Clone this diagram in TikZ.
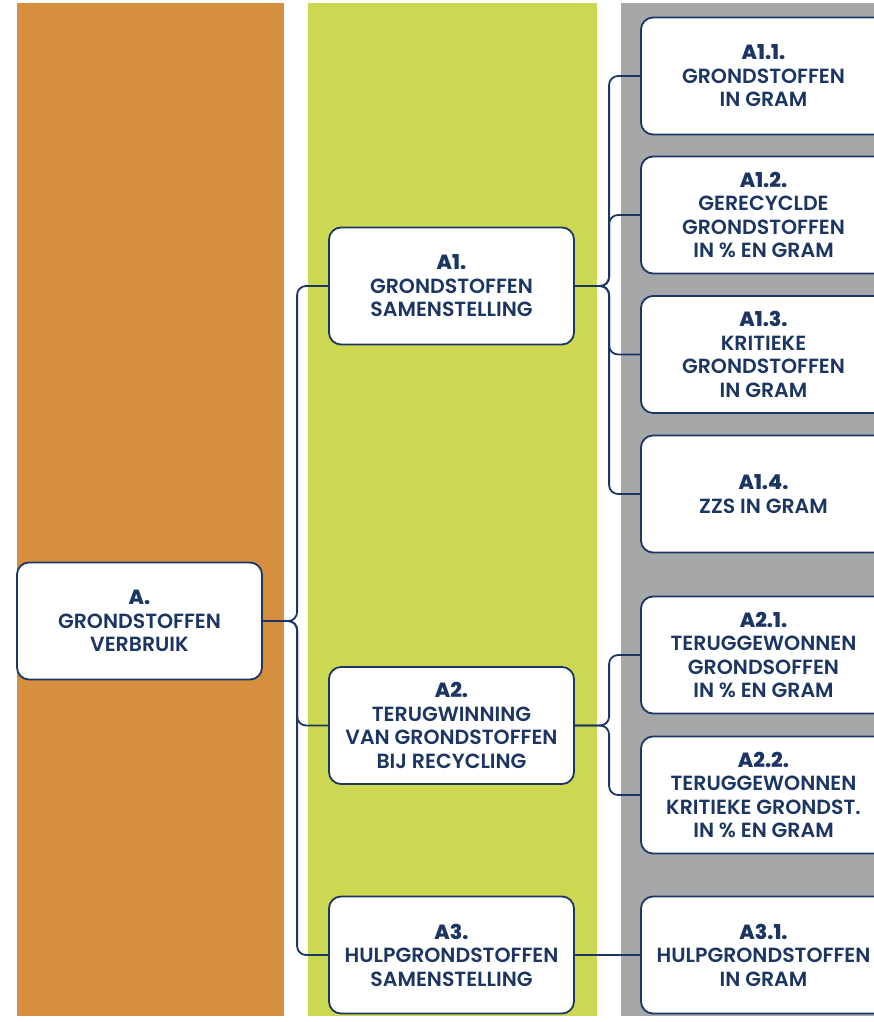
\documentclass[tikz,border=0pt]{standalone}
\usepackage{fontspec}
\setmainfont{Poppins}[UprightFont={* SemiBold},BoldFont={* ExtraBold}]
\usepackage{tikz}
\usetikzlibrary{positioning,calc}
\usepackage{xcolor}
\definecolor{colOrange}{HTML}{D68F3E}
\definecolor{colGreen}{HTML}{CDD852}
\definecolor{colGray}{HTML}{A6A7A9}
\definecolor{colNavy}{HTML}{1C3664}

\begin{document}
\begin{tikzpicture}[x=1pt,y=-1pt,
    box/.style={draw=colNavy, line width=1.8pt, fill=white, rounded corners=12pt,
        minimum width=245pt, minimum height=117pt, align=center, text=colNavy,
        font=\fontsize{20.5}{23.5}\selectfont},
    conn/.style={draw=colNavy, line width=1.8pt, rounded corners=9pt}]
    \clip (0,0) rectangle (874,1022);
    % Columns
    \fill[white] (0,0) rectangle (874,1022);
    \fill[colOrange] (17,3) rectangle (284,1016);
    \fill[colGreen] (308,3) rectangle (597,1016);
    \fill[colGray] (621,3) rectangle (880,1016);
    % Boxes
    \node[box] (A) at (139.5,621) {\textbf{A.}\\GRONDSTOFFEN\\VERBRUIK};
    \node[box] (A1) at (451.5,286) {\textbf{A1.}\\GRONDSTOFFEN\\SAMENSTELLING};
    \node[box] (A2) at (451.5,725.5) {\textbf{A2.}\\TERUGWINNING\\VAN GRONDSTOFFEN\\BIJ RECYCLING};
    \node[box] (A3) at (451.5,955) {\textbf{A3.}\\HULPGRONDSTOFFEN\\SAMENSTELLING};
    \node[box] (A11) at (763.5,76) {\textbf{A1.1.}\\GRONDSTOFFEN\\IN GRAM};
    \node[box] (A12) at (763.5,215) {\textbf{A1.2.}\\GERECYCLDE\\GRONDSTOFFEN\\IN \% EN GRAM};
    \node[box] (A13) at (763.5,354.5) {\textbf{A1.3.}\\KRITIEKE\\GRONDSTOFFEN\\IN GRAM};
    \node[box] (A14) at (763.5,494) {\textbf{A1.4.}\\ZZS IN GRAM};
    \node[box] (A21) at (763.5,655) {\textbf{A2.1.}\\TERUGGEWONNEN\\GRONDSOFFEN\\IN \% EN GRAM};
    \node[box] (A22) at (763.5,795) {\textbf{A2.2.}\\TERUGGEWONNEN\\KRITIEKE GRONDST.\\IN \% EN GRAM};
    \node[box] (A31) at (763.5,955) {\textbf{A3.1.}\\HULPGRONDSTOFFEN\\IN GRAM};
    % Connectors
    \foreach \to in {A1,A2,A3}
        \draw[conn] (A.east) -| ([xshift=-31pt]\to.west) -- (\to.west);
    \foreach \to in {A11,A12,A13,A14}
        \draw[conn] (A1.east) -| ([xshift=-31pt]\to.west) -- (\to.west);
    \foreach \to in {A21,A22}
        \draw[conn] (A2.east) -| ([xshift=-31pt]\to.west) -- (\to.west);
    \draw[conn] (A3.east) -- (A31.west);
\end{tikzpicture}
\end{document}
